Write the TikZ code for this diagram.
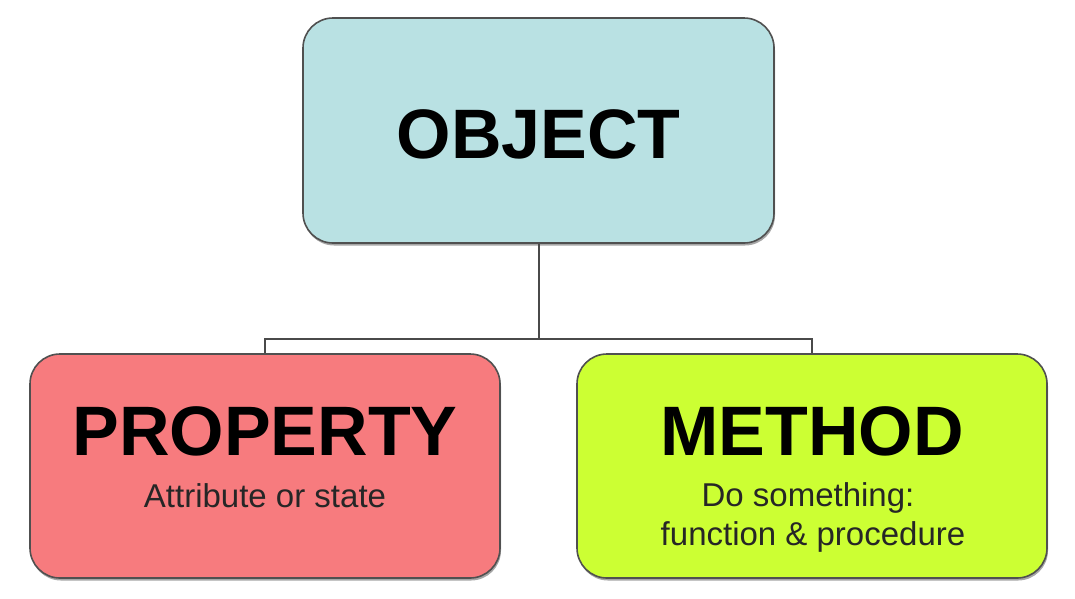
\documentclass[tikz,border=0pt]{standalone}
\usepackage{fontspec}
\setmainfont{Liberation Sans}
\usetikzlibrary{shadows}
\definecolor{objfill}{HTML}{B9E1E3}
\definecolor{propfill}{HTML}{F77B7E}
\definecolor{methfill}{HTML}{CCFF33}
\definecolor{edgegray}{HTML}{505050}
\definecolor{linegray}{HTML}{4A4A4A}
\begin{document}
\begin{tikzpicture}[x=1pt,y=-1pt,
  box/.style={draw=edgegray, line width=1.6pt, rounded corners=30pt, inner sep=0pt,
    drop shadow={shadow xshift=1pt, shadow yshift=-2.5pt, opacity=0.35, fill=black}},
  title/.style={font=\fontsize{70}{70}\selectfont\bfseries, anchor=base, inner sep=0pt},
  sub/.style={font=\fontsize{33}{39}\selectfont, text=black!85, anchor=base, inner sep=0pt},
  conn/.style={draw=linegray, line width=2pt}]
\useasboundingbox (0,0) rectangle (1075,598);
\node[box, fill=objfill, minimum width=471pt, minimum height=225pt] (obj) at (538.5,130.5) {};
\node[box, fill=propfill, minimum width=470pt, minimum height=224pt] (prop) at (265,466) {};
\node[box, fill=methfill, minimum width=470pt, minimum height=224pt] (meth) at (812,466) {};
\node[title] (objt) at (538.5,158) {OBJECT};
\node[title] (propt) at (265,455) {PROPERTY};
\node[title] (metht) at (812,455) {METHOD};
\node[sub] (props) at (265,507) {Attribute or state};
\node[sub] (meths1) at (808,506) {Do something:};
\node[sub] (meths2) at (813,545) {function \& procedure};
\coordinate (bus) at (538.5,339);
\draw[conn] (obj.south) -- (bus);
\draw[conn] (prop.north) |- (bus) -| (meth.north);
\end{tikzpicture}
\end{document}
